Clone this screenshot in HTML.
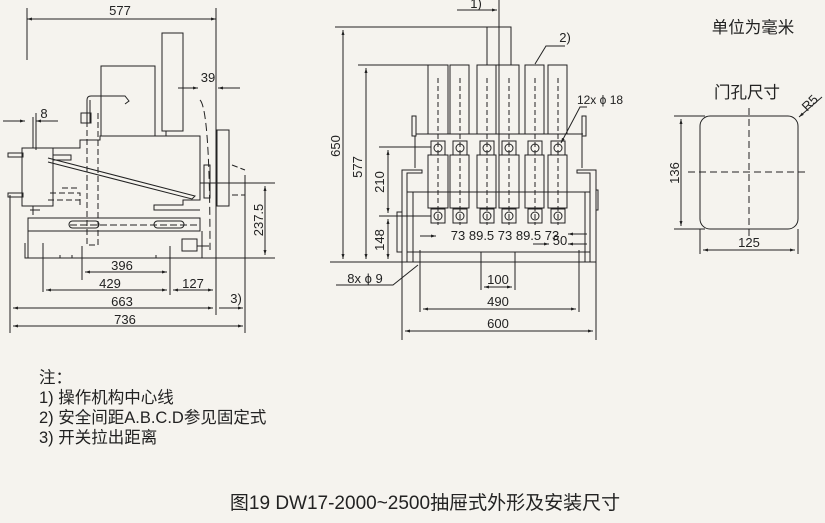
<!DOCTYPE html>
<html><head><meta charset="utf-8"><style>
html,body{margin:0;padding:0;background:#f5f3ee;}
svg{display:block}
text{font-family:"Liberation Sans","Noto Sans CJK SC",sans-serif;fill:#222;}
</style></head><body>
<svg width="825" height="523" viewBox="0 0 825 523" xmlns="http://www.w3.org/2000/svg">
<defs><marker id="a" viewBox="0 0 10 10" refX="10" refY="5" markerWidth="7" markerHeight="5" orient="auto-start-reverse"><path d="M0,2L10,5L0,8z" fill="#222"/></marker></defs>
<g stroke="#222" stroke-width="1" fill="none">
<!-- LEFT VIEW -->
<line x1="27" y1="8" x2="27" y2="60"/><line x1="216" y1="8" x2="216" y2="315"/>
<line x1="27" y1="19" x2="216" y2="19" marker-start="url(#a)" marker-end="url(#a)"/>
<rect x="162" y="33" width="21" height="98"/>
<rect x="101" y="66" width="54" height="70"/>
<path d="M87,123 L87,100 Q87,96 91,96 L125,96 L129,101 L125,104"/>
<path d="M90,100 L90,123"/>
<rect x="81" y="113" width="10" height="10"/>
<path d="M98,113 L98,245 L87,245 L87,115" stroke-dasharray="6,3"/>
<path d="M166,131 L166,136 L100,136 L100,140 L80,140 L80,148 L53,148 L53,155 L71,155 L71,160 L53,160"/>
<rect x="22" y="148" width="31" height="58"/>
<rect x="8" y="153" width="15" height="4"/><rect x="8" y="193" width="15" height="4"/>
<path d="M33,117 L33,148 M33,206 L33,215 M30,210 L40,210"/>
<path d="M48,158 L195,196 L192,199 L48,162"/>
<path d="M50,193 L80,193 L80,205 M62,188 L80,188 M48,200 L80,200" stroke-dasharray="6,3"/>
<path d="M166,131 L166,136 L200,136 L200,200 L183,200 L183,205 L154,205 L154,210 L200,210"/>
<path d="M200,100 Q210,110 210,250" stroke-dasharray="8,4"/>
<rect x="217" y="130" width="12" height="76"/>
<path d="M229,132 L229,206 M232,165 L245,170 M232,195 L245,195" stroke-dasharray="6,3"/>
<path d="M204,165 L210,165 L210,198 L204,198z"/>
<line x1="200" y1="183" x2="275" y2="183"/>
<rect x="28" y="218" width="172" height="13"/>
<path d="M28,231 L28,258 L202,258 L202,231"/>
<path d="M25,243 L25,258 L60,258 L60,255 M72,255 L72,258 L96,258 M156,255 L156,258"/>
<rect x="69" y="221" width="30" height="7" rx="3.5"/><rect x="154" y="221" width="30" height="7" rx="3.5"/>
<line x1="70" y1="225" x2="200" y2="225" stroke-dasharray="7,3"/>
<rect x="182" y="239" width="15" height="12"/><line x1="197" y1="246" x2="209" y2="246"/>
<line x1="200" y1="258" x2="275" y2="258"/>
<line x1="265" y1="186" x2="265" y2="255" marker-start="url(#a)" marker-end="url(#a)"/>
<line x1="245" y1="175" x2="245" y2="333"/>
<line x1="10" y1="195" x2="10" y2="333"/>
<line x1="43" y1="243" x2="43" y2="292"/><line x1="82" y1="246" x2="82" y2="280"/><line x1="170" y1="246" x2="170" y2="295"/>
<line x1="85" y1="272" x2="167" y2="272" marker-start="url(#a)" marker-end="url(#a)"/>
<line x1="46" y1="290" x2="167" y2="290" marker-start="url(#a)" marker-end="url(#a)"/>
<line x1="173" y1="290" x2="213" y2="290" marker-start="url(#a)" marker-end="url(#a)"/>
<line x1="13" y1="308" x2="213" y2="308" marker-start="url(#a)" marker-end="url(#a)"/>
<line x1="219" y1="308" x2="243" y2="308" marker-end="url(#a)"/>
<line x1="13" y1="326" x2="243" y2="326" marker-start="url(#a)" marker-end="url(#a)"/>
<line x1="3" y1="121" x2="25" y2="121" marker-end="url(#a)"/><line x1="58" y1="121" x2="36" y2="121" marker-end="url(#a)"/>
<line x1="36" y1="113" x2="36" y2="150"/>
<line x1="178" y1="88" x2="198" y2="88" marker-end="url(#a)"/><line x1="240" y1="88" x2="218" y2="88" marker-end="url(#a)"/>
<!-- MIDDLE VIEW -->
<line x1="457" y1="10" x2="497" y2="10" marker-end="url(#a)"/>
<line x1="499" y1="0" x2="499" y2="208"/>
<rect x="487" y="27" width="24" height="38"/>
<line x1="335" y1="27" x2="511" y2="27"/><line x1="358" y1="65" x2="430" y2="65"/>
<line x1="343" y1="30" x2="343" y2="259" marker-start="url(#a)" marker-end="url(#a)"/>
<line x1="366" y1="68" x2="366" y2="259" marker-start="url(#a)" marker-end="url(#a)"/>
<line x1="330" y1="262" x2="596" y2="262"/>
<g>
<rect x="428" y="65" width="20" height="69"/><rect x="450" y="65" width="19" height="69"/><rect x="477" y="65" width="19" height="69"/><rect x="499" y="65" width="20" height="69"/><rect x="525" y="65" width="19" height="69"/><rect x="548" y="65" width="19" height="69"/>
<rect x="428" y="155" width="20" height="53"/><rect x="450" y="155" width="19" height="53"/><rect x="477" y="155" width="19" height="53"/><rect x="499" y="155" width="20" height="53"/><rect x="525" y="155" width="19" height="53"/><rect x="548" y="155" width="19" height="53"/>
<rect x="431" y="141" width="14" height="14"/><rect x="453" y="141" width="14" height="14"/><rect x="480" y="141" width="14" height="14"/><rect x="502" y="141" width="14" height="14"/><rect x="528" y="141" width="14" height="14"/><rect x="551" y="141" width="14" height="14"/>
<rect x="431" y="209" width="14" height="14"/><rect x="453" y="209" width="14" height="14"/><rect x="480" y="209" width="14" height="14"/><rect x="502" y="209" width="14" height="14"/><rect x="528" y="209" width="14" height="14"/><rect x="551" y="209" width="14" height="14"/>
<circle cx="438" cy="148" r="4"/><circle cx="460" cy="148" r="4"/><circle cx="487" cy="148" r="4"/><circle cx="509" cy="148" r="4"/><circle cx="535" cy="148" r="4"/><circle cx="558" cy="148" r="4"/>
<circle cx="438" cy="216" r="4"/><circle cx="460" cy="216" r="4"/><circle cx="487" cy="216" r="4"/><circle cx="509" cy="216" r="4"/><circle cx="535" cy="216" r="4"/><circle cx="558" cy="216" r="4"/>
</g>
<g stroke-dasharray="5,3"><line x1="438" y1="78" x2="438" y2="225"/><line x1="460" y1="78" x2="460" y2="225"/><line x1="487" y1="78" x2="487" y2="225"/><line x1="509" y1="78" x2="509" y2="225"/><line x1="535" y1="78" x2="535" y2="225"/><line x1="558" y1="78" x2="558" y2="225"/></g>
<line x1="416" y1="134" x2="583" y2="134"/>
<rect x="412" y="116" width="4" height="20"/><rect x="582" y="116" width="4" height="20"/>
<line x1="415" y1="136" x2="415" y2="168"/><line x1="582" y1="136" x2="582" y2="168"/>
<path d="M402,262 L402,170 L422,170 L422,173 L407,173 L407,262"/>
<path d="M596,262 L596,170 L577,170 L577,173 L590,173 L590,262"/>
<rect x="397" y="212" width="5" height="40"/><rect x="596" y="190" width="2" height="20"/>
<line x1="407" y1="192" x2="590" y2="192"/><line x1="407" y1="252" x2="590" y2="252"/>
<line x1="413" y1="192" x2="413" y2="262"/><line x1="585" y1="192" x2="585" y2="262"/>
<line x1="379" y1="147" x2="431" y2="147"/><line x1="379" y1="216" x2="431" y2="216"/>
<line x1="388" y1="150" x2="388" y2="213" marker-start="url(#a)" marker-end="url(#a)"/>
<line x1="388" y1="219" x2="388" y2="259" marker-start="url(#a)" marker-end="url(#a)"/>
<line x1="420" y1="250" x2="420" y2="312"/><line x1="579" y1="250" x2="579" y2="312"/>
<line x1="481" y1="252" x2="481" y2="290"/><line x1="515" y1="252" x2="515" y2="290"/>
<line x1="484" y1="287" x2="512" y2="287" marker-start="url(#a)" marker-end="url(#a)"/>
<line x1="423" y1="309" x2="576" y2="309" marker-start="url(#a)" marker-end="url(#a)"/>
<line x1="402" y1="262" x2="402" y2="340"/><line x1="596" y1="262" x2="596" y2="340"/>
<line x1="405" y1="331" x2="593" y2="331" marker-start="url(#a)" marker-end="url(#a)"/>
<line x1="420" y1="236" x2="436" y2="236" marker-end="url(#a)"/>
<line x1="587" y1="234" x2="568" y2="234" marker-end="url(#a)"/><line x1="587" y1="244" x2="568" y2="244" marker-end="url(#a)"/>
<line x1="533" y1="244" x2="549" y2="244" marker-end="url(#a)"/>
<path d="M565,46 L546,46 L535,64"/>
<path d="M587,107 L580,107 L561,143" marker-end="url(#a)"/>
<path d="M336,285 L393,285 L418,265"/>
<!-- RIGHT VIEW -->
<rect x="700" y="116" width="98" height="113" rx="10"/>
<line x1="749" y1="108" x2="749" y2="236" stroke-dasharray="7,4"/>
<line x1="688" y1="172" x2="808" y2="172" stroke-dasharray="7,4"/>
<line x1="674" y1="116" x2="705" y2="116"/><line x1="674" y1="229" x2="705" y2="229"/>
<line x1="681" y1="119" x2="681" y2="226" marker-start="url(#a)" marker-end="url(#a)"/>
<line x1="700" y1="229" x2="700" y2="254"/><line x1="798" y1="229" x2="798" y2="254"/>
<line x1="703" y1="250" x2="795" y2="250" marker-start="url(#a)" marker-end="url(#a)"/>
<line x1="822" y1="97" x2="799" y2="117" marker-end="url(#a)"/>
</g>
<g font-size="13" text-anchor="middle">
<text x="120" y="15">577</text><text x="208" y="82">39</text><text x="44" y="118">8</text>
<text x="122" y="270">396</text><text x="110" y="288">429</text><text x="193" y="288">127</text>
<text x="122" y="306">663</text><text x="236" y="303">3)</text><text x="125" y="324">736</text>
<text transform="translate(263,220) rotate(-90)">237.5</text>
<text x="476" y="8">1)</text><text x="565" y="42">2)</text><text x="600" y="104" font-size="12">12x ϕ 18</text>
<text transform="translate(340,146) rotate(-90)">650</text>
<text transform="translate(362,167) rotate(-90)">577</text>
<text transform="translate(384,182) rotate(-90)">210</text>
<text transform="translate(384,240) rotate(-90)">148</text>
<text x="505" y="240" font-size="13">73 89.5 73 89.5 73</text><text x="560" y="245">50</text>
<text x="365" y="283">8x ϕ 9</text>
<text x="498" y="284">100</text><text x="498" y="306">490</text><text x="498" y="328">600</text>
<text transform="translate(679,173) rotate(-90)">136</text><text x="749" y="247">125</text>
<text transform="translate(813,106) rotate(-45)">R5</text>
</g>
<g font-size="16.5" text-anchor="middle">
<text x="753" y="33">单位为毫米</text><text x="747" y="98">门孔尺寸</text>
</g>
<g font-size="16.5">
<text x="39" y="383">注：</text>
<text x="39" y="403">1) 操作机构中心线</text>
<text x="39" y="423">2) 安全间距A.B.C.D参见固定式</text>
<text x="39" y="443">3) 开关拉出距离</text>
</g>
<text x="425" y="509" font-size="19" text-anchor="middle">图19 DW17-2000~2500抽屉式外形及安装尺寸</text>
</svg>
</body></html>
